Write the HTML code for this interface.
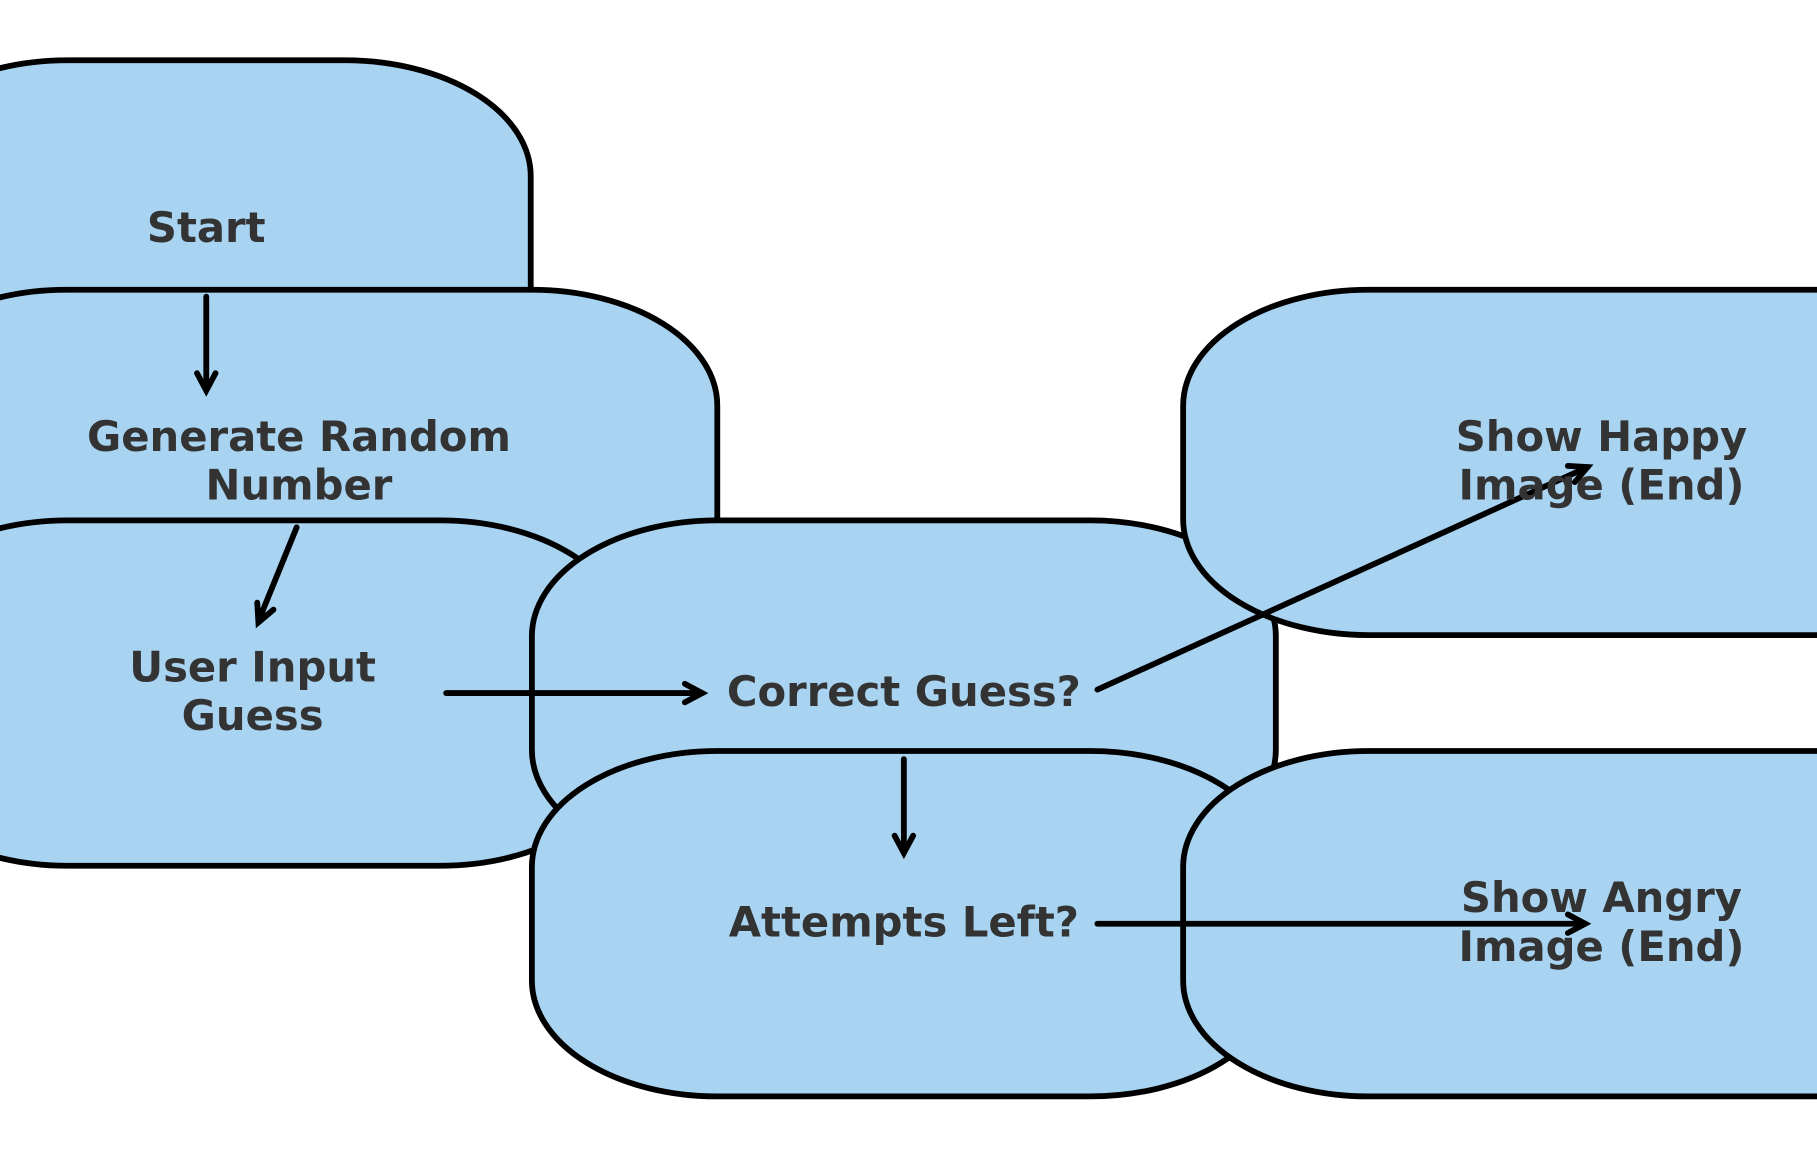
<!DOCTYPE html>
<html><head><meta charset="utf-8"><style>
html,body{margin:0;padding:0;background:#fff;}
svg{display:block}
text{font-family:"DejaVu Sans","Liberation Sans",sans-serif;font-weight:bold;font-size:36px;fill:#333;text-anchor:middle}
</style></head><body>
<svg width="1817" height="1159" viewBox="0 0 1568 1000" preserveAspectRatio="none">
<g fill="#a8d3f1" stroke="#000" stroke-width="5">
<rect x="-102" y="52" width="560" height="298" rx="160" ry="100"/>
<rect x="-103" y="250" width="722" height="298" rx="160" ry="100"/>
<rect x="-102" y="449" width="642" height="298" rx="160" ry="100"/>
<rect x="459" y="449" width="642" height="298" rx="160" ry="100"/>
<rect x="1021" y="250" width="722" height="298" rx="160" ry="100"/>
<rect x="459" y="648" width="642" height="298" rx="160" ry="100"/>
<rect x="1021" y="648" width="722" height="298" rx="160" ry="100"/>
</g>
<g stroke="#000" stroke-width="5" fill="none" stroke-linecap="round">
<line x1="178" y1="256" x2="178" y2="336"/><path d="M170,322 L178,337 L186,322"/>
<line x1="256" y1="455" x2="223" y2="536"/><path d="M222,520 L223,537 L236,526"/>
<line x1="385" y1="598" x2="606" y2="598"/><path d="M591,590 L606,598 L591,606"/>
<line x1="780" y1="655" x2="780" y2="735"/><path d="M772,721 L780,736 L788,721"/>
<line x1="947" y1="595" x2="1370" y2="403"/><path d="M1353,402 L1370,403 L1359,416"/>
<line x1="947" y1="797" x2="1368" y2="797"/><path d="M1353,789 L1368,797 L1353,805"/>
</g>
<text x="178" y="209">Start</text>
<text x="258" y="389">Generate Random</text>
<text x="258" y="431">Number</text>
<text x="218" y="588">User Input</text>
<text x="218" y="630">Guess</text>
<text x="780" y="609">Correct Guess?</text>
<text x="780" y="808">Attempts Left?</text>
<text x="1382" y="389">Show Happy</text>
<text x="1382" y="431">Image (End)</text>
<text x="1382" y="787">Show Angry</text>
<text x="1382" y="829">Image (End)</text>
</svg>
</body></html>
